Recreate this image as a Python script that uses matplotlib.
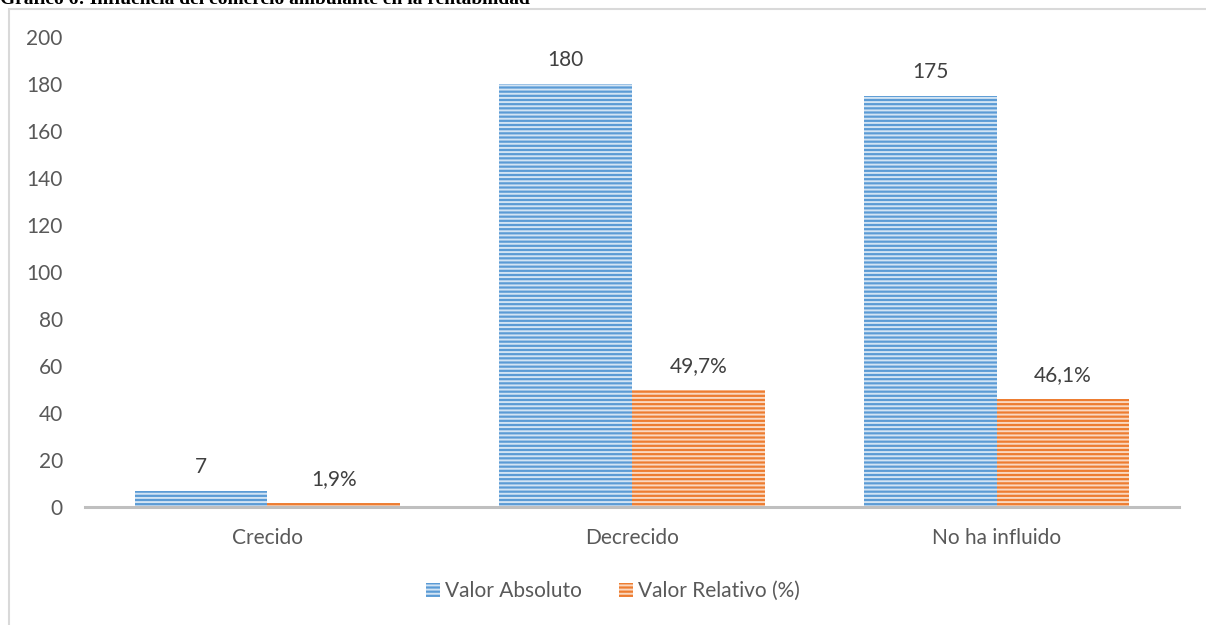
import matplotlib.pyplot as plt
import numpy as np
from matplotlib.patches import Rectangle

plt.rcParams['font.family'] = ['Lato', 'DejaVu Sans']
plt.rcParams['hatch.linewidth'] = 1.4

# Data
categories = ['Crecido', 'Decrecido', 'No ha influido']
valor_absoluto = [7, 180, 175]
valor_relativo = [1.9, 49.7, 46.1]
absoluto_labels = ['7', '180', '175']
relativo_labels = ['1,9%', '49,7%', '46,1%']
y_ticks = [0, 20, 40, 60, 80, 100, 120, 140, 160, 180, 200]

fig = plt.figure(figsize=(12.06, 6.25), dpi=100)
ax = fig.add_axes([85 / 1206, 1 - 507 / 625, (1179 - 85) / 1206, (507 - 37) / 625])

x = np.arange(len(categories))
w = 0.364
bars_abs = ax.bar(x - w / 2, valor_absoluto, width=w, color='#5B9BD5', edgecolor='#D2E4F4',
                  linewidth=0, hatch='----', label='Valor Absoluto')
bars_rel = ax.bar(x + w / 2, valor_relativo, width=w, color='#ED7D31', edgecolor='#FAD8C0',
                  linewidth=0, hatch='----', label='Valor Relativo (%)')

ax.bar_label(bars_abs, labels=absoluto_labels, padding=10, fontsize=15, color='#404040')
ax.bar_label(bars_rel, labels=relativo_labels, padding=10, fontsize=15, color='#404040')

ax.set_xlim(-0.5, 2.5)
ax.set_ylim(0, 200)
ax.set_yticks(y_ticks)
ax.set_xticks(x)
ax.set_xticklabels(categories)
ax.tick_params(axis='both', length=0, labelsize=15, labelcolor='#595959')
ax.tick_params(axis='y', pad=16)
ax.tick_params(axis='x', pad=15)

for s in ['top', 'right', 'left']:
    ax.spines[s].set_visible(False)
ax.spines['bottom'].set_color('#BFBFBF')
ax.spines['bottom'].set_linewidth(2.2)

fig.legend(handles=[bars_abs, bars_rel], loc='center', bbox_to_anchor=(613 / 1206, 1 - 591 / 625),
           ncol=2, frameon=False, fontsize=15, labelcolor='#595959',
           handlelength=0.65, handleheight=0.65, handletextpad=0.25, columnspacing=1.8)

# chart frame (left and top edges visible)
fig.add_artist(Rectangle((8.5 / 1206, -0.5), 2, 1.5 - 8.5 / 625, transform=fig.transFigure,
                         fill=False, edgecolor='#D9D9D9', linewidth=1.5, clip_on=False))

# title, cut at the top of the image as in the source
fig.text(0, 1 - 4 / 625, 'Gráfico 6: Influencia del comercio ambulante en la rentabilidad',
         family='Liberation Serif', fontweight='bold', fontsize=14, va='baseline', ha='left',
         color='black')

fig.savefig('out.png', dpi=100)
